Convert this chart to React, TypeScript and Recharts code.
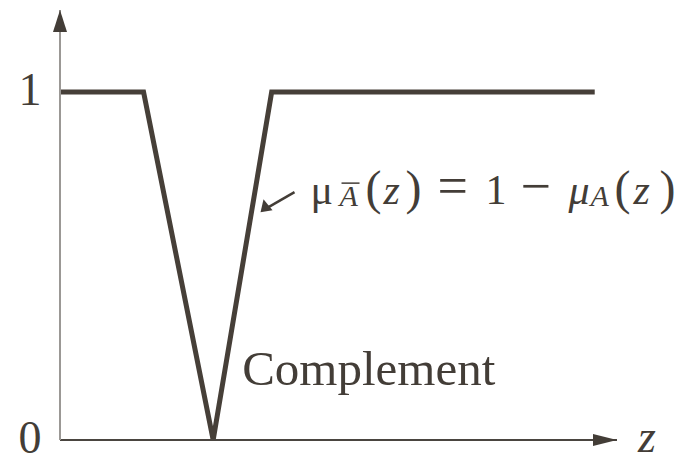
import { LineChart, Line, XAxis, YAxis, ReferenceDot } from "recharts";

// membership function of the complement
const zValues = [0, 1.5, 2.75, 3.8, 9.6];
const membership = [1, 1, 0, 1, 1];
const yTicks = [0, 1];

const data = zValues.map((z, i) => ({ z, mu: membership[i] }));

const INK = "#433d37";
const FONT = "'Liberation Serif', 'DejaVu Serif', serif";

const YTick = ({ y, payload }: any) => (
  <text x={30} y={y + 13} textAnchor="middle" fontFamily={FONT} fontSize={46} fill={INK}>
    {payload.value}
  </text>
);

const UpArrow = ({ cx, cy }: any) => (
  <path d={`M${cx},${cy} L${cx - 7},${cy + 22} L${cx + 7},${cy + 22} Z`} fill={INK} />
);

const RightArrow = ({ cx, cy }: any) => (
  <g>
    <path d={`M${cx},${cy} L${cx - 24},${cy - 6} L${cx - 24},${cy + 6} Z`} fill={INK} />
    <text x={cx + 21} y={cy + 12} fontFamily={FONT} fontSize={46} fontStyle="italic" fill={INK}>
      z
    </text>
  </g>
);

// pieces of the formula: [text, dx from the arrow tip, style, size]
const formulaParts: [string, number, string, number][] = [
  ["μ", 50, "normal", 42],
  ["A", 79, "italic", 30],
  ["(", 105, "normal", 48],
  ["z", 123, "italic", 42],
  [")", 145, "normal", 48],
  ["=", 177, "normal", 54],
  ["1", 225, "normal", 42],
  ["−", 260, "normal", 54],
  ["μ", 308, "italic", 42],
  ["A", 330, "italic", 30],
  ["(", 354, "normal", 48],
  ["z", 373, "italic", 42],
  [")", 399, "normal", 48],
];

const Formula = ({ cx, cy }: any) => (
  <g fill={INK} fontFamily={FONT}>
    <line x1={cx + 34} y1={cy - 20} x2={cx + 8} y2={cy - 5} stroke={INK} strokeWidth={2.5} />
    <path d={`M${cx},${cy} L${cx + 3},${cy - 13} L${cx + 12},${cy - 2} Z`} fill={INK} />
    {formulaParts.map(([t, dx, style, size], i) => (
      <text key={i} x={cx + dx} y={size === 30 ? cy - 6 : cy - 8} fontSize={size} fontStyle={style}>
        {t}
      </text>
    ))}
    <line x1={cx + 81} y1={cy - 29} x2={cx + 99} y2={cy - 29} stroke={INK} strokeWidth={1.5} />
  </g>
);

const Caption = ({ cx, cy }: any) => (
  <text x={cx + 29} y={cy - 55} fontFamily={FONT} fontSize={49} fill={INK}>
    Complement
  </text>
);

export default function App() {
  return (
    <div style={{ position: "absolute", left: 0, top: 0, background: "#fff" }}>
      <LineChart
        width={691}
        height={464}
        data={data}
        margin={{ top: 10, right: 74, bottom: 0, left: 0 }}
      >
        <XAxis
          dataKey="z"
          type="number"
          domain={[0, 10]}
          height={24}
          tick={false}
          tickLine={false}
          axisLine={{ stroke: "#4a4540", strokeWidth: 2 }}
        />
        <YAxis
          type="number"
          domain={[0, 1.236]}
          ticks={yTicks}
          width={60}
          tick={<YTick />}
          tickLine={false}
          axisLine={{ stroke: "#9b9895", strokeWidth: 2 }}
          allowDataOverflow
        />
        <Line
          type="linear"
          dataKey="mu"
          stroke="#463f38"
          strokeWidth={5}
          dot={false}
          isAnimationActive={false}
        />
        <ReferenceDot x={0} y={1.236} shape={<UpArrow />} ifOverflow="visible" />
        <ReferenceDot x={10} y={0} shape={<RightArrow />} ifOverflow="visible" />
        <ReferenceDot x={3.6} y={0.655} shape={<Formula />} ifOverflow="visible" />
        <ReferenceDot x={2.75} y={0} shape={<Caption />} ifOverflow="visible" />
      </LineChart>
    </div>
  );
}
